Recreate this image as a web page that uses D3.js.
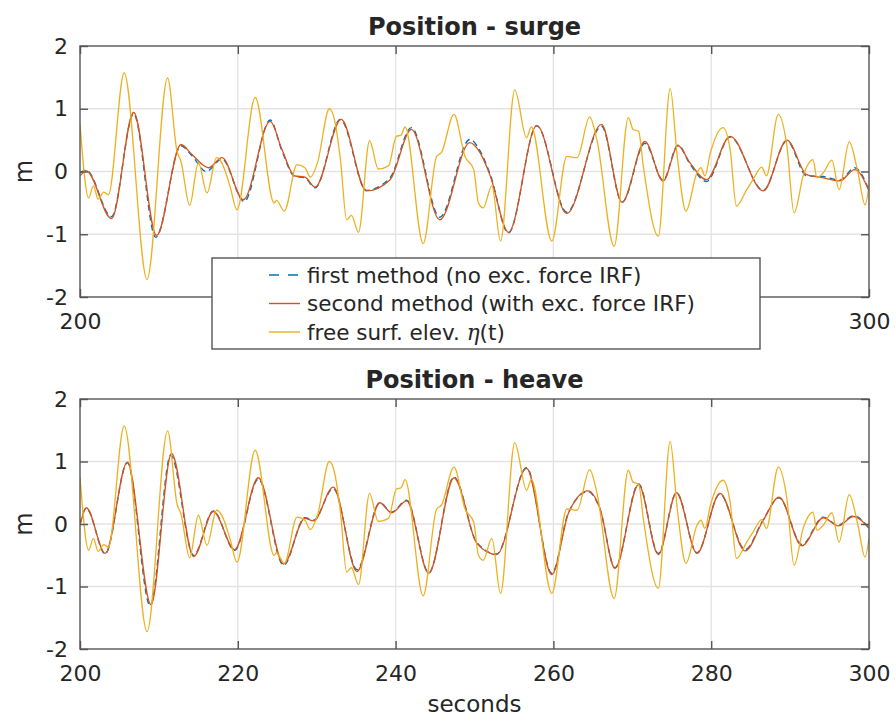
<!DOCTYPE html>
<html>
<head>
<meta charset="utf-8">
<script src="https://cdn.jsdelivr.net/npm/d3@7"></script>
<style>
  body { margin: 0; background: #fff; }
  svg { display: block; }
  text { fill: #262626; font-family: "DejaVu Sans", sans-serif; }
</style>
</head>
<body>
<svg id="chart" width="896" height="718"></svg>
<script>
// free surface elevation, same signal in both panels [t, value]
const eta = [
  [200.0, 0.75], [201.1, -0.42], [201.7, -0.23], [202.3, -0.44], [203.0, -0.33], [203.6, -0.37],
  [205.6, 1.57], [208.5, -1.72], [211.1, 1.49], [212.3, 0.32], [212.8, 0.16], [213.9, -0.54],
  [215.0, 0.14], [216.1, -0.34], [217.3, 0.22], [218.0, 0.13], [219.0, -0.23], [219.9, -0.61],
  [222.2, 1.18], [224.6, -0.50], [224.9, -0.46], [225.9, -0.63], [227.5, 0.11], [228.5, 0.06],
  [229.2, -0.09], [230.1, 0.14], [231.6, 1.00], [232.3, 0.80], [233.0, 0.20], [233.8, -0.77],
  [234.4, -0.70], [235.3, -0.97], [236.7, 0.49], [237.8, 0.04], [239.1, 0.09], [240.1, 0.56],
  [240.7, 0.58], [241.2, 0.71], [243.5, -1.15], [245.2, 0.24], [245.8, 0.30], [247.4, 0.91],
  [248.8, 0.24], [249.9, 0.03], [250.5, -0.50], [251.1, -0.58], [252.2, -0.23], [253.3, -1.11],
  [255.1, 1.30], [256.6, 0.54], [257.2, 0.71], [259.8, -1.11], [261.7, 0.24], [263.0, 0.22],
  [264.6, 0.87], [265.5, 0.51], [267.7, -1.19], [269.5, 0.86], [270.1, 0.67], [270.8, 0.64],
  [271.4, 0.08], [273.3, -1.03], [274.8, 1.32], [275.7, 0.24], [276.8, -0.63], [278.2, -0.02],
  [278.7, 0.06], [279.2, -0.07], [279.9, 0.30], [281.5, 0.70], [282.4, 0.35], [283.2, -0.55],
  [284.5, -0.29], [285.3, -0.13], [286.4, 0.07], [287.0, -0.07], [288.5, 0.91], [289.6, 0.40],
  [290.5, -0.66], [291.7, -0.05], [292.9, 0.19], [293.4, -0.10], [294.2, -0.02], [295.3, 0.18],
  [296.2, -0.29], [297.5, 0.47], [298.6, -0.02], [299.5, -0.53], [300.0, -0.23]
];

// surge, first method (no exc. force IRF)
const surgeFirst = [
  [200.0, -0.02], [200.8, 0.02], [204.0, -0.72], [206.8, 0.92], [209.6, -1.05], [212.8, 0.41],
  [214.2, 0.25], [216.0, 0.00], [218.0, 0.20], [220.8, -0.48], [224.1, 0.82], [225.6, 0.33],
  [227.2, -0.08], [228.5, -0.10], [229.8, -0.26], [233.0, 0.83], [236.3, -0.30], [239.3, -0.10],
  [242.0, 0.70], [245.6, -0.73], [249.4, 0.51], [250.7, 0.33], [252.0, -0.05], [254.3, -0.98],
  [257.9, 0.73], [261.7, -0.65], [266.1, 0.72], [268.7, -0.49], [271.6, 0.45], [273.9, -0.14],
  [275.8, 0.42], [277.3, 0.12], [279.4, -0.16], [282.4, 0.55], [286.6, -0.30], [289.6, 0.49],
  [292.1, -0.07], [294.2, -0.08], [296.3, -0.14], [298.2, 0.06], [300.0, -0.30]
];

// surge, second method (with exc. force IRF)
const surgeSecond = [
  [200.0, -0.07], [200.8, 0.01], [204.0, -0.75], [206.8, 0.94], [209.7, -1.02], [212.8, 0.43],
  [214.2, 0.27], [216.3, 0.06], [218.0, 0.22], [220.7, -0.45], [224.1, 0.80], [225.6, 0.35],
  [227.2, -0.07], [228.5, -0.09], [229.8, -0.25], [233.1, 0.83], [236.3, -0.31], [239.3, -0.13],
  [242.0, 0.67], [245.6, -0.77], [249.4, 0.46], [250.7, 0.30], [252.0, -0.07], [254.3, -0.97],
  [257.9, 0.73], [261.7, -0.67], [266.1, 0.75], [268.7, -0.49], [271.6, 0.48], [273.9, -0.15],
  [275.8, 0.41], [277.3, 0.14], [279.4, -0.13], [282.4, 0.56], [286.6, -0.31], [289.6, 0.50],
  [292.1, -0.05], [294.2, -0.10], [296.3, -0.15], [298.2, 0.03], [300.0, -0.31]
];

// heave, first method
const heaveFirst = [
  [200.0, 0.00], [200.8, 0.25], [203.2, -0.48], [206.0, 0.98], [208.9, -1.31], [211.5, 1.10],
  [214.4, -0.50], [216.9, 0.21], [219.6, -0.42], [222.6, 0.72], [225.8, -0.66], [228.5, 0.10],
  [229.6, 0.06], [232.1, 0.57], [235.1, -0.73], [238.0, 0.34], [239.5, 0.19], [241.4, 0.38],
  [244.2, -0.78], [247.4, 0.75], [250.3, -0.30], [252.8, -0.48], [256.6, 0.90], [259.8, -0.79],
  [261.9, 0.18], [264.4, 0.52], [265.9, 0.24], [267.8, -0.70], [270.8, 0.64], [273.3, -0.47],
  [275.6, 0.50], [278.2, -0.46], [281.1, 0.48], [284.3, -0.41], [286.6, 0.07], [288.6, 0.42],
  [291.5, -0.33], [294.2, 0.11], [296.1, -0.02], [298.0, 0.13], [300.0, -0.06]
];

// heave, second method
const heaveSecond = [
  [200.0, -0.02], [200.8, 0.26], [203.2, -0.47], [206.0, 0.99], [209.0, -1.29], [211.6, 1.13],
  [214.4, -0.52], [216.9, 0.20], [219.6, -0.41], [222.6, 0.74], [225.8, -0.64], [228.5, 0.09],
  [229.6, 0.05], [232.1, 0.59], [235.1, -0.76], [238.0, 0.34], [239.5, 0.18], [241.4, 0.37],
  [244.2, -0.79], [247.4, 0.74], [250.3, -0.31], [252.8, -0.49], [256.6, 0.89], [259.8, -0.81],
  [261.9, 0.17], [264.4, 0.53], [265.9, 0.25], [267.8, -0.71], [270.8, 0.63], [273.3, -0.49],
  [275.6, 0.50], [278.2, -0.47], [281.1, 0.49], [284.3, -0.43], [286.6, 0.06], [288.6, 0.43],
  [291.5, -0.35], [294.2, 0.10], [296.1, -0.03], [298.0, 0.12], [300.0, -0.07]
];

const xTicks = [200, 220, 240, 260, 280, 300];
const yTicks = [-2, -1, 0, 1, 2];
const legendLabels = ["first method (no exc. force IRF)", "second method (with exc. force IRF)", "free surf. elev. "];

const colors = { first: "#0072BD", second: "#D95319", eta: "#EDB120" };

const svg = d3.select("#chart");
const left = 80, right = 869;

const x = d3.scaleLinear().domain([200, 300]).range([left, right]);

function panel(top, bottom, title, first, second, id, labelTicks) {
  const y = d3.scaleLinear().domain([-2, 2]).range([bottom, top]);
  const g = svg.append("g");

  svg.append("clipPath").attr("id", id)
    .append("rect").attr("x", left).attr("y", top)
    .attr("width", right - left).attr("height", bottom - top);

  // grid
  g.append("g").selectAll("line").data(xTicks.slice(1, -1)).join("line")
    .attr("x1", d => x(d)).attr("x2", d => x(d))
    .attr("y1", top).attr("y2", bottom)
    .attr("stroke", "#e3e3e3").attr("stroke-width", 1.3);
  g.append("g").selectAll("line").data(yTicks.slice(1, -1)).join("line")
    .attr("x1", left).attr("x2", right)
    .attr("y1", d => y(d)).attr("y2", d => y(d))
    .attr("stroke", "#e3e3e3").attr("stroke-width", 1.3);

  const line = d3.line()
    .x(d => x(d[0]))
    .y(d => y(d[1]))
    .curve(d3.curveMonotoneX);

  const lines = g.append("g").attr("clip-path", `url(#${id})`);
  lines.append("path").datum(first)
    .attr("fill", "none").attr("stroke", colors.first)
    .attr("stroke-width", 1.4).attr("stroke-dasharray", "6,4")
    .attr("d", line);
  lines.append("path").datum(second)
    .attr("fill", "none").attr("stroke", colors.second)
    .attr("stroke-width", 1.3)
    .attr("d", line);
  lines.append("path").datum(eta)
    .attr("fill", "none").attr("stroke", colors.eta)
    .attr("stroke-width", 1.3)
    .attr("d", line);

  // axes, ticks pointing inward
  const fmt = d => labelTicks.includes(d) ? String(d) : "";
  const ax = (sel) => {
    sel.selectAll(".domain").remove();
    sel.selectAll("line").attr("stroke", "#555").attr("stroke-width", 1.4);
    sel.selectAll("text").style("font-size", "22px").attr("fill", "#262626");
  };
  g.append("g").attr("transform", `translate(0,${bottom})`)
    .call(d3.axisBottom(x).tickValues(xTicks).tickFormat(fmt).tickSize(-8).tickPadding(16))
    .call(ax);
  g.append("g").attr("transform", `translate(0,${top})`)
    .call(d3.axisTop(x).tickValues(xTicks).tickFormat("").tickSize(-8))
    .call(ax);
  g.append("g").attr("transform", `translate(${left},0)`)
    .call(d3.axisLeft(y).tickValues(yTicks).tickFormat(String).tickSize(-8).tickPadding(12))
    .call(ax);
  g.append("g").attr("transform", `translate(${right},0)`)
    .call(d3.axisRight(y).tickValues(yTicks).tickFormat("").tickSize(-8))
    .call(ax);

  g.append("rect")
    .attr("x", left).attr("y", top)
    .attr("width", right - left).attr("height", bottom - top)
    .attr("fill", "none").attr("stroke", "#555").attr("stroke-width", 1.4);

  svg.append("text")
    .attr("x", (left + right) / 2).attr("y", top - 11)
    .attr("text-anchor", "middle")
    .style("font-size", "24px").style("font-weight", "bold")
    .attr("fill", "#000")
    .text(title);

  svg.append("text")
    .attr("transform", `translate(32,${y(0)}) rotate(-90)`)
    .attr("text-anchor", "middle")
    .style("font-size", "24px")
    .text("m");
}

panel(46, 297, "Position - surge", surgeFirst, surgeSecond, "clipTop", [200, 300]);
panel(399, 649, "Position - heave", heaveFirst, heaveSecond, "clipBottom", xTicks);

svg.append("text")
  .attr("x", (left + right) / 2).attr("y", 712)
  .attr("text-anchor", "middle")
  .style("font-size", "23px")
  .text("seconds");

// legend
const leg = svg.append("g");
leg.append("rect")
  .attr("x", 212).attr("y", 258).attr("width", 548).attr("height", 91)
  .attr("fill", "#fff").attr("stroke", "#555").attr("stroke-width", 1.4);

const rows = [
  { color: colors.first, dash: "10,9" },
  { color: colors.second, dash: null },
  { color: colors.eta, dash: null }
];
rows.forEach((r, i) => {
  const cy = 275 + i * 28.5;
  leg.append("line")
    .attr("x1", 269).attr("x2", 300).attr("y1", cy).attr("y2", cy)
    .attr("stroke", r.color).attr("stroke-width", 1.4)
    .attr("stroke-dasharray", r.dash);
  const t = leg.append("text")
    .attr("x", 307).attr("y", cy)
    .attr("dominant-baseline", "central")
    .style("font-size", "21.5px")
    .text(legendLabels[i]);
  if (i === 2) {
    t.append("tspan").style("font-family", "'DejaVu Serif', serif").style("font-style", "italic").text("η");
    t.append("tspan").text("(t)");
  }
});
</script>
</body>
</html>
